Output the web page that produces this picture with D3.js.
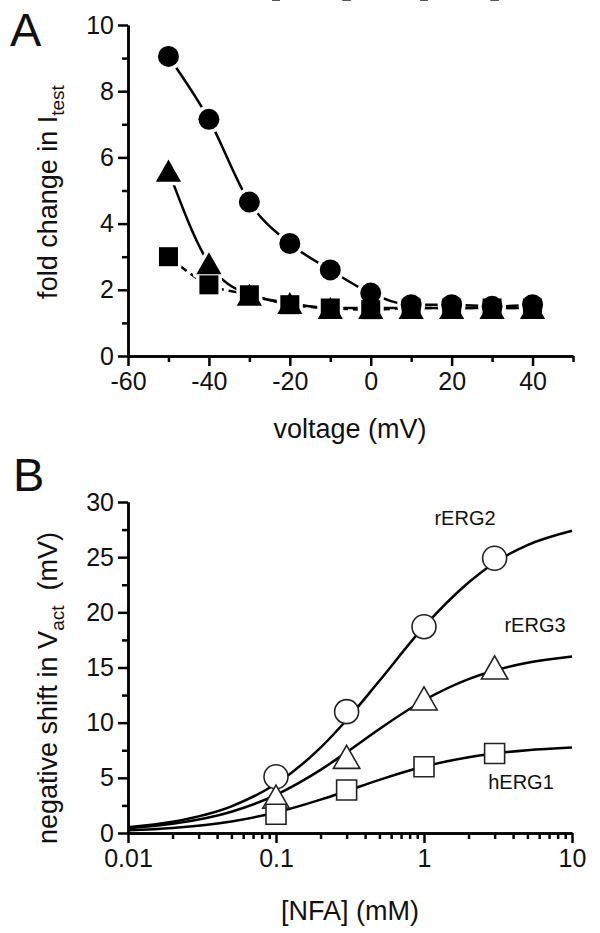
<!DOCTYPE html>
<html><head><meta charset="utf-8">
<script src="https://cdn.jsdelivr.net/npm/d3@7"></script>
<style>html,body{margin:0;padding:0;background:#fff;overflow:hidden}svg{display:block}text{font-family:"Liberation Sans",Arial,sans-serif;fill:#111}</style>
</head><body><svg id="c" width="600" height="933"></svg>
<script>
// ---- Panel A data ----
const voltages = [-50,-40,-30,-20,-10,0,10,20,30,40];
const circleA  = [9.05,7.15,4.65,3.4,2.6,1.9,1.55,1.55,1.5,1.55];
const triangleA= [5.6,2.8,1.85,1.6,1.45,1.45,1.45,1.45,1.45,1.45];
const squareA  = [3.0,2.15,1.85,1.55,1.45,1.4,1.45,1.45,1.45,1.45];
const xTicksA = [-60,-50,-40,-30,-20,-10,0,10,20,30,40,50];
const xLabelsA = [-60,-40,-20,0,20,40];
const yTicksA = [0,1,2,3,4,5,6,7,8,9,10];
const yLabelsA = [0,2,4,6,8,10];

// ---- Panel B data ----
const conc = [0.1,0.3,1,3];
const rERG2 = [5.1,11.0,18.7,24.9];
const rERG2err = [0.6,0.7,0.7,0.3];
const rERG3 = [3.3,6.9,12.2,15.0];
const rERG3err = [0.8,1.2,1.2,1.3];
const hERG1 = [1.7,3.9,6.0,7.2];
const hERG1err = [0.4,0.8,0.7,0.6];
// fitted curves
const fitX = [0.01,0.02,0.05,0.1,0.2,0.3,0.5,1,2,3,5,10];
const fitRERG2 = [0.52,1.02,2.42,4.46,7.73,10.24,13.8,18.7,22.7,24.5,26.1,27.4];
const fitRERG3 = [0.43,0.83,1.93,3.46,5.72,7.32,9.43,12.03,13.95,14.73,15.43,16.0];
const fitHERG1 = [0.24,0.46,1.05,1.86,3.02,3.81,4.82,6.02,6.87,7.21,7.5,7.74];
const yTicksB = [0,2.5,5,7.5,10,12.5,15,17.5,20,22.5,25,27.5,30];
const yLabelsB = [0,5,10,15,20,25,30];
const xLabelsB = [0.01,0.1,1,10];

const svg = d3.select("#c");
const TICKFONT = 25, TITLEFONT = 27, MAJ = 10, MIN = 6;

function styleAxis(g){
  g.select(".domain").attr("stroke","#000").attr("stroke-width",2.5);
  g.selectAll(".tick line").attr("stroke","#000").attr("stroke-width",2.5);
  g.selectAll(".tick text").attr("font-size",TICKFONT).attr("fill","#111")
   .attr("font-family","'Liberation Sans',Arial,sans-serif")
   .text(function(){return d3.select(this).text().replace("\u2212","-");});
}

// ===== Panel A =====
const xA = d3.scaleLinear().domain([-60,50]).range([128,573]);
const yA = d3.scaleLinear().domain([0,10]).range([356,25]);
const gA = svg.append("g");

gA.append("g").attr("transform",`translate(0,${yA(0)})`)
  .call(d3.axisBottom(xA).tickValues(xTicksA.filter(t=>!xLabelsA.includes(t))).tickSize(MIN).tickFormat("").tickSizeOuter(0))
  .call(styleAxis);
gA.append("g").attr("transform",`translate(0,${yA(0)})`)
  .call(d3.axisBottom(xA).tickValues(xLabelsA).tickSize(MAJ).tickPadding(6).tickFormat(d3.format("d")).tickSizeOuter(0))
  .call(styleAxis);
gA.append("g").attr("transform",`translate(${xA(-60)},0)`)
  .call(d3.axisLeft(yA).tickValues(yTicksA.filter(t=>!yLabelsA.includes(t))).tickSize(MIN).tickFormat("").tickSizeOuter(0))
  .call(styleAxis);
gA.append("g").attr("transform",`translate(${xA(-60)},0)`)
  .call(d3.axisLeft(yA).tickValues(yLabelsA).tickSize(MAJ).tickPadding(4).tickFormat(d3.format("d")).tickSizeOuter(0))
  .call(styleAxis);

gA.append("text").attr("x",350).attr("y",438).attr("text-anchor","middle").attr("font-size",TITLEFONT).text("voltage (mV)");
const ylabA = gA.append("text").attr("transform","translate(57,192) rotate(-90)").attr("text-anchor","middle").attr("font-size",TITLEFONT);
ylabA.append("tspan").text("fold change in I");
ylabA.append("tspan").attr("font-size",19).attr("dy",7).text("test");
gA.append("text").attr("x",10).attr("y",46).attr("font-size",47).text("A");

const lineA = d3.line().x((d,i)=>xA(voltages[i])).y(d=>yA(d)).curve(d3.curveMonotoneX);
const seriesA = [
  {vals:circleA, shape:"circle", dash:null},
  {vals:triangleA, shape:"triangle", dash:null},
  {vals:squareA, shape:"square", dash:"9,5"},
];
seriesA.forEach(s=>{
  gA.append("path").attr("d",lineA(s.vals)).attr("fill","none").attr("stroke","#000").attr("stroke-width",2.5).attr("stroke-dasharray",s.dash);
});
function shapePath(shape, size){
  if(shape==="circle"){ return d3.symbol().type(d3.symbolCircle).size(Math.PI*size*size)(); }
  if(shape==="square"){ const h=size; return `M${-h},${-h}H${h}V${h}H${-h}Z`; }
  if(shape==="triangle"){ const w=size*1.2, h=size*1.05; return `M0,${-h}L${w},${h}L${-w},${h}Z`; }
}
const sizesA = {circle:10.5, square:9.5, triangle:10.5};
seriesA.forEach(s=>{
  gA.append("g").selectAll("path").data(s.vals).join("path")
    .attr("transform",(v,i)=>`translate(${xA(voltages[i])},${yA(v)})`).attr("d",shapePath(s.shape,sizesA[s.shape]))
    .attr("fill","#fff").attr("stroke","#fff").attr("stroke-width",7).attr("stroke-linejoin","round");
});
seriesA.forEach(s=>{
  gA.append("g").selectAll("path").data(s.vals).join("path")
    .attr("transform",(v,i)=>`translate(${xA(voltages[i])},${yA(v)})`).attr("d",shapePath(s.shape,sizesA[s.shape]))
    .attr("fill","#000");
});

// ===== Panel B =====
const xB = d3.scaleLog().domain([0.01,10]).range([128,572]);
const yB = d3.scaleLinear().domain([0,30]).range([833,502]);
const gB = svg.append("g");
const allLogTicks = xB.ticks();
gB.append("g").attr("transform",`translate(0,${yB(0)})`)
  .call(d3.axisBottom(xB).tickValues(allLogTicks.filter(t=>!xLabelsB.some(l=>Math.abs(l-t)<1e-9))).tickSize(MIN).tickFormat("").tickSizeOuter(0))
  .call(styleAxis);
gB.append("g").attr("transform",`translate(0,${yB(0)})`)
  .call(d3.axisBottom(xB).tickValues(xLabelsB).tickSize(MAJ).tickPadding(6).tickFormat(d=>String(d)).tickSizeOuter(0))
  .call(styleAxis);
gB.append("g").attr("transform",`translate(${xB(0.01)},0)`)
  .call(d3.axisLeft(yB).tickValues(yTicksB.filter(t=>!yLabelsB.includes(t))).tickSize(MIN).tickFormat("").tickSizeOuter(0))
  .call(styleAxis);
gB.append("g").attr("transform",`translate(${xB(0.01)},0)`)
  .call(d3.axisLeft(yB).tickValues(yLabelsB).tickSize(MAJ).tickPadding(4).tickFormat(d3.format("d")).tickSizeOuter(0))
  .call(styleAxis);

gB.append("text").attr("x",350).attr("y",920).attr("text-anchor","middle").attr("font-size",TITLEFONT).text("[NFA] (mM)");
const ylabB = gB.append("text").attr("transform","translate(57,688) rotate(-90)").attr("text-anchor","middle").attr("font-size",TITLEFONT);
ylabB.append("tspan").text("negative shift in V");
ylabB.append("tspan").attr("font-size",19).attr("dy",7).text("act");
ylabB.append("tspan").attr("dy",-7).text("\u00a0 (mV)");
gB.append("text").attr("x",13).attr("y",491).attr("font-size",47).text("B");

const fitLine = d3.line().x((d,i)=>xB(fitX[i])).y(d=>yB(d)).curve(d3.curveMonotoneX);
[fitRERG2,fitRERG3,fitHERG1].forEach(f=>{
  gB.append("path").attr("d",fitLine(f)).attr("fill","none").attr("stroke","#000").attr("stroke-width",2.5);
});
const seriesB = [
  {vals:rERG2, err:rERG2err, shape:"circle", size:12},
  {vals:rERG3, err:rERG3err, shape:"triangle", size:11},
  {vals:hERG1, err:hERG1err, shape:"square", size:10},
];
seriesB.forEach(s=>{
  const g = gB.append("g");
  s.vals.forEach((v,i)=>{
    const cx=xB(conc[i]), cy=yB(v);
    g.append("path").attr("transform",`translate(${cx},${cy})`).attr("d",shapePath(s.shape,s.size))
      .attr("fill","#fff").attr("stroke","#222").attr("stroke-width",1.6);
    const y1=yB(v+s.err), y2=yB(v-s.err);
    g.append("line").attr("x1",cx).attr("x2",cx).attr("y1",y1).attr("y2",y2).attr("stroke","#555").attr("stroke-width",1);
    [y1,y2].forEach(yy=>g.append("line").attr("x1",cx-4).attr("x2",cx+4).attr("y1",yy).attr("y2",yy).attr("stroke","#555").attr("stroke-width",1));
  });
});
gB.append("text").attr("x",465).attr("y",525).attr("text-anchor","middle").attr("font-size",20).text("rERG2");
gB.append("text").attr("x",535).attr("y",632).attr("text-anchor","middle").attr("font-size",20).text("rERG3");
gB.append("text").attr("x",521).attr("y",789).attr("text-anchor","middle").attr("font-size",20).text("hERG1");
</script></body></html>
